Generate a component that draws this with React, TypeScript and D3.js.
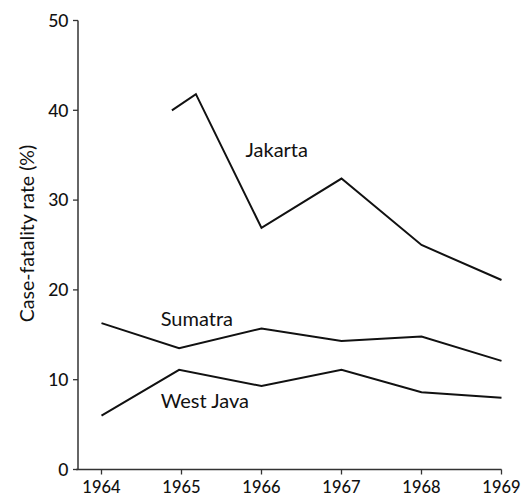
import React from "react";
import * as d3 from "d3";

const years = [1964, 1965, 1966, 1967, 1968, 1969];
const yTicks = [0, 10, 20, 30, 40, 50];

const jakartaX = [1964.88, 1965.18, 1966, 1967, 1968, 1969];
const jakartaY = [40, 41.8, 26.9, 32.4, 25.0, 21.1];

const sumatraX = [1964, 1964.97, 1966, 1967, 1968, 1969];
const sumatraY = [16.3, 13.5, 15.7, 14.3, 14.8, 12.1];

const westJavaX = [1964, 1964.97, 1966, 1967, 1968, 1969];
const westJavaY = [6.0, 11.1, 9.3, 11.1, 8.6, 8.0];

const seriesLabels = [
  { name: "Jakarta", x: 1965.8, y: 34.8 },
  { name: "Sumatra", x: 1964.74, y: 15.98 },
  { name: "West Java", x: 1964.74, y: 6.85 },
];

const FONT = "Lato, 'Open Sans', sans-serif";

export default function App() {
  const W = 525;
  const H = 497;
  const x = d3.scaleLinear().domain([1964, 1969]).range([101.5, 501.5]);
  const y = d3.scaleLinear().domain([0, 50]).range([469.5, 20.5]);
  const axisX = 78;
  const line = d3
    .line<[number, number]>()
    .x((d) => x(d[0]))
    .y((d) => y(d[1]));
  const mk = (xs: number[], ys: number[]) => xs.map((v, i) => [v, ys[i]] as [number, number]);
  const series = [mk(jakartaX, jakartaY), mk(sumatraX, sumatraY), mk(westJavaX, westJavaY)];

  return (
    <svg
      width={W}
      height={H}
      style={{ position: "absolute", left: 0, top: 0, background: "#fff" }}
      fontFamily={FONT}
    >
      <rect width={W} height={H} fill="#fff" />
      {/* y axis */}
      <line x1={axisX} x2={axisX} y1={y(50)} y2={y(0)} stroke="#333" strokeWidth={1.5} />
      {yTicks.map((t) => (
        <g key={t}>
          <line x1={axisX - 5} x2={axisX} y1={y(t)} y2={y(t)} stroke="#333" strokeWidth={1.3} />
          <text x={axisX - 9.5} y={y(t)} dy="0.36em" textAnchor="end" fontSize={17.5} fontWeight={500} fill="#111">
            {t}
          </text>
        </g>
      ))}
      <text
        transform={`translate(34,${233.5}) rotate(-90)`}
        textAnchor="middle"
        fontSize={19.5}
        fill="#111"
      >
        Case-fatality rate (%)
      </text>
      {/* x axis */}
      <line x1={axisX - 2} x2={x(1969)} y1={y(0)} y2={y(0)} stroke="#333" strokeWidth={1.5} />
      {years.map((t) => (
        <g key={t}>
          <line x1={x(t)} x2={x(t)} y1={y(0)} y2={y(0) + 5} stroke="#333" strokeWidth={1.3} />
          <text x={Math.min(x(t), 503)} y={493} textAnchor="middle" fontSize={16.5} fontWeight={500} fill="#111">
            {t}
          </text>
        </g>
      ))}
      {series.map((s, i) => (
        <path key={i} d={line(s) || ""} fill="none" stroke="#111" strokeWidth={2} strokeLinejoin="miter" />
      ))}
      {seriesLabels.map((l) => (
        <text key={l.name} x={x(l.x)} y={y(l.y)} fontSize={20} fill="#111">
          {l.name}
        </text>
      ))}
    </svg>
  );
}
